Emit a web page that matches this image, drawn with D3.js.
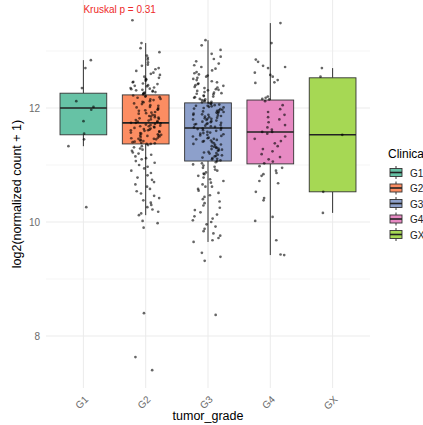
<!DOCTYPE html>
<meta charset="utf-8">
<style>
body { margin: 0; background: #fff; }
text { font-family: "Liberation Sans", Arial, sans-serif; }
.grid { stroke: #EBEBEB; fill: none; }
.box { stroke: #333; stroke-width: 0.9; }
.median { stroke: #222; stroke-width: 1.6; }
.whisker { stroke: #333; stroke-width: 1; }
.dot { fill: #000; fill-opacity: 0.6; }
</style>

<svg id="chart" width="423" height="425"></svg>

<script src="https://cdn.jsdelivr.net/npm/d3@7"></script>
<script>

const grades = ["G1", "G2", "G3", "G4", "GX"]
const colors = ["#66C2A5", "#FC8D62", "#8DA0CB", "#E78AC3", "#A6D854"]

// box statistics
const whiskerLo = [11.33, 10.12, 9.65, 9.42, 10.16]
const q1        = [11.53, 11.37, 11.07, 11.02, 10.53]
const medians   = [12.00, 11.74, 11.65, 11.58, 11.53]
const q3        = [12.26, 12.23, 12.09, 12.14, 12.53]
const whiskerHi = [12.84, 13.14, 13.19, 13.49, 12.70]

const yMajor = [8, 10, 12]
const yMinor = [9, 11, 13]

const valuesG1 = [12.84, 12.70, 12.35, 12.12, 12.02, 11.97, 11.77, 11.55, 11.45, 11.33, 10.26]

const valuesG2 = [
  13.54, 13.14, 13.05, 12.98, 12.92, 12.88, 12.85, 12.80, 12.76, 12.74, 12.70, 12.68, 12.65, 12.62,
  12.60, 12.58, 12.55, 12.53, 12.51, 12.50, 12.48, 12.46, 12.45, 12.43, 12.42, 12.40, 12.39, 12.38,
  12.36, 12.35, 12.34, 12.33, 12.32, 12.31, 12.30, 12.29, 12.28, 12.27, 12.26, 12.25, 12.24,
  12.22, 12.21, 12.20, 12.19, 12.18, 12.16, 12.15, 12.14, 12.12, 12.11, 12.10, 12.08, 12.07, 12.05,
  12.04, 12.02, 12.01, 12.00, 11.98, 11.97, 11.96, 11.95, 11.93, 11.92, 11.91, 11.90, 11.88, 11.87,
  11.86, 11.85, 11.84, 11.83, 11.82, 11.81, 11.80, 11.79, 11.78, 11.77, 11.76, 11.75, 11.74, 11.74,
  11.73, 11.72, 11.71, 11.70, 11.69, 11.68, 11.67, 11.66, 11.65, 11.64, 11.63, 11.62, 11.61, 11.60,
  11.59, 11.58, 11.57, 11.56, 11.55, 11.54, 11.53, 11.52, 11.51, 11.50, 11.49, 11.48, 11.47, 11.46,
  11.45, 11.44, 11.43, 11.42, 11.41, 11.40, 11.39, 11.38, 11.37, 11.37, 11.46, 11.52, 11.61, 11.68,
  11.35, 11.33, 11.31, 11.29, 11.27, 11.25, 11.22, 11.20, 11.18, 11.15, 11.12, 11.10, 11.07, 11.04,
  11.00, 10.97, 10.94, 10.90, 10.86, 10.82, 10.78, 10.74, 10.70, 10.66, 10.62, 10.58, 10.54, 10.50,
  10.46, 10.42, 10.38, 10.34, 10.30, 10.26, 10.22, 10.18, 10.15, 10.12,
  10.02, 9.98, 9.90, 8.40, 7.63, 7.40
]

const valuesG3 = [
  13.19, 13.10, 13.02, 12.95, 12.90, 12.86, 12.82, 12.78, 12.75, 12.72, 12.69, 12.66, 12.63, 12.61,
  12.59, 12.57, 12.55, 12.53, 12.51, 12.49, 12.47, 12.45, 12.43, 12.42, 12.40, 12.39, 12.37, 12.36,
  12.35, 12.33, 12.32, 12.31, 12.30, 12.28, 12.27, 12.26, 12.25, 12.24, 12.22, 12.21, 12.20, 12.19,
  12.18, 12.16, 12.15, 12.14, 12.13, 12.12, 12.11, 12.10,
  12.09, 12.08, 12.07, 12.06, 12.05, 12.04, 12.03, 12.02, 12.01, 12.00, 11.99, 11.98, 11.97, 11.96,
  11.95, 11.94, 11.93, 11.92, 11.91, 11.90, 11.89, 11.88, 11.87, 11.86, 11.85, 11.84, 11.83, 11.82,
  11.81, 11.80, 11.79, 11.78, 11.77, 11.76, 11.75, 11.74, 11.73, 11.72, 11.71, 11.70, 11.69, 11.68,
  11.67, 11.66, 11.65, 11.93, 11.81, 11.72, 12.04, 11.88,
  11.64, 11.63, 11.62, 11.61, 11.60, 11.58, 11.57, 11.56, 11.55, 11.53, 11.52, 11.51, 11.50, 11.48,
  11.47, 11.46, 11.45, 11.43, 11.42, 11.41, 11.40, 11.38, 11.37, 11.36, 11.35, 11.33, 11.32, 11.31,
  11.30, 11.28, 11.27, 11.26, 11.25, 11.23, 11.22, 11.21, 11.20, 11.18, 11.17, 11.16, 11.15, 11.13,
  11.12, 11.11, 11.10, 11.08, 11.07, 11.44, 11.29, 11.54,
  11.05, 11.03, 11.01, 10.99, 10.97, 10.95, 10.92, 10.90, 10.87, 10.84, 10.81, 10.78, 10.75, 10.72,
  10.69, 10.66, 10.62, 10.58, 10.55, 10.51, 10.47, 10.44, 10.40, 10.36, 10.33, 10.29, 10.25, 10.21,
  10.17, 10.13, 10.10, 10.06, 10.03, 10.00, 9.96, 9.92, 9.88, 9.84, 9.80, 9.76, 9.72, 9.68, 9.65,
  10.62, 10.85,
  9.46, 9.39, 9.32, 8.37
]

const valuesG4 = [
  13.49, 13.14, 12.85, 12.81, 12.74, 12.72, 12.70, 12.62, 12.58, 12.55, 12.49, 12.45, 12.44, 12.20,
  12.18, 12.16, 12.15,
  12.12, 12.05, 11.98, 11.93, 11.88, 11.84, 11.80, 11.75, 11.70, 11.66, 11.62, 11.58, 11.58, 11.55,
  11.50, 11.46, 11.42, 11.38, 11.33, 11.28, 11.24, 11.19, 11.14, 11.10, 11.06, 11.03,
  10.98, 10.95, 10.90, 10.86, 10.84, 10.81, 10.72, 10.68, 10.53, 10.42, 10.38, 10.09, 10.02, 9.68,
  9.43, 9.42
]

const valuesGX = [12.70, 12.55, 11.53, 10.53, 10.16]

const pointValues = [valuesG1, valuesG2, valuesG3, valuesG4, valuesGX]

const svg = d3.select("#chart")

const panel = {left: 46, right: 370, top: 0, bottom: 388}

const x = d3.scalePoint()
  .domain(grades)
  .range([panel.left, panel.right])
  .padding(0.6)

const y = d3.scaleLinear()
  .domain([7.088, 13.895])
  .range([panel.bottom, panel.top])

const boxW = x.step() * 0.75
const jitterW = x.step() * 0.25

// deterministic jitter so the picture is stable
const jitter = (g, i) => {
  const s = Math.sin((i + 1) * 12.9898 + (g + 1) * 78.233) * 43758.5453
  return (s - Math.floor(s)) * 2 - 1
}

//gridlines
svg.append("g").selectAll("line.minor")
  .data(yMinor)
  .join("line")
    .attr("class", "grid")
    .attr("stroke-width", 0.5)
    .attr("x1", panel.left).attr("x2", panel.right)
    .attr("y1", d => y(d)).attr("y2", d => y(d))

svg.append("g").selectAll("line.major")
  .data(yMajor)
  .join("line")
    .attr("class", "grid")
    .attr("stroke-width", 1)
    .attr("x1", panel.left).attr("x2", panel.right)
    .attr("y1", d => y(d)).attr("y2", d => y(d))

svg.append("g").selectAll("line")
  .data(grades)
  .join("line")
    .attr("class", "grid")
    .attr("stroke-width", 1)
    .attr("x1", d => x(d)).attr("x2", d => x(d))
    .attr("y1", panel.top).attr("y2", panel.bottom)

//boxplots
const boxes = svg.append("g").selectAll("g")
  .data(grades)
  .join("g")

boxes.append("line")
  .attr("class", "whisker")
  .attr("x1", d => x(d)).attr("x2", d => x(d))
  .attr("y1", (d, i) => y(whiskerHi[i])).attr("y2", (d, i) => y(q3[i]))

boxes.append("line")
  .attr("class", "whisker")
  .attr("x1", d => x(d)).attr("x2", d => x(d))
  .attr("y1", (d, i) => y(q1[i])).attr("y2", (d, i) => y(whiskerLo[i]))

boxes.append("rect")
  .attr("class", "box")
  .attr("x", d => x(d) - boxW / 2)
  .attr("width", boxW)
  .attr("y", (d, i) => y(q3[i]))
  .attr("height", (d, i) => y(q1[i]) - y(q3[i]))
  .attr("fill", (d, i) => colors[i])

boxes.append("line")
  .attr("class", "median")
  .attr("x1", d => x(d) - boxW / 2).attr("x2", d => x(d) + boxW / 2)
  .attr("y1", (d, i) => y(medians[i])).attr("y2", (d, i) => y(medians[i]))

//jittered points
const points = []
pointValues.forEach((vals, g) => vals.forEach((v, i) => points.push({g, v, i})))

svg.append("g").selectAll("circle")
  .data(points)
  .join("circle")
    .attr("class", "dot")
    .attr("r", 1.35)
    .attr("cx", d => x(grades[d.g]) + jitter(d.g, d.i) * jitterW)
    .attr("cy", d => y(d.v))

//axes
const yAxis = svg.append("g")
  .attr("transform", `translate(${panel.left}, 0)`)
  .call(d3.axisLeft(y).tickValues(yMajor).tickFormat(d3.format("d")).tickSize(0).tickPadding(6))
yAxis.select(".domain").remove()
yAxis.selectAll("text")
  .attr("fill", "#6B6B6B")
  .style("font-size", "10px")

const xAxis = svg.append("g")
  .attr("transform", `translate(0, ${panel.bottom})`)
  .call(d3.axisBottom(x).tickSize(0).tickPadding(0))
xAxis.select(".domain").remove()
xAxis.selectAll("text")
  .attr("fill", "#6B6B6B")
  .style("font-size", "10px")
  .attr("text-anchor", "end")
  .attr("dy", null)
  .attr("y", 0)
  .attr("transform", "translate(5, 12) rotate(-45)")

svg.append("text")
  .attr("x", (panel.left + panel.right) / 2)
  .attr("y", 420)
  .attr("text-anchor", "middle")
  .style("font-size", "12.5px")
  .text("tumor_grade")

svg.append("text")
  .attr("transform", `translate(21, ${(panel.top + panel.bottom) / 2}) rotate(-90)`)
  .attr("text-anchor", "middle")
  .style("font-size", "12.5px")
  .text("log2(normalized count + 1)")

svg.append("text")
  .attr("x", x("G1"))
  .attr("y", 13)
  .attr("fill", "#EE2A2A")
  .style("font-size", "10px")
  .text("Kruskal p = 0.31")

//legend
const legend = svg.append("g")
  .attr("transform", "translate(388, 0)")

legend.append("text")
  .attr("x", 0)
  .attr("y", 158)
  .style("font-size", "12px")
  .text("Clinical grade")

const keys = legend.selectAll("g")
  .data(grades)
  .join("g")
    .attr("transform", (d, i) => `translate(2, ${166 + i * 15.5})`)

keys.append("line")
  .attr("class", "whisker")
  .attr("x1", 6).attr("x2", 6).attr("y1", 0).attr("y2", 13)
keys.append("rect")
  .attr("class", "box")
  .attr("x", 0).attr("y", 2.5).attr("width", 12).attr("height", 8)
  .attr("fill", (d, i) => colors[i])
keys.append("line")
  .attr("class", "median")
  .attr("x1", 0).attr("x2", 12).attr("y1", 6.5).attr("y2", 6.5)
keys.append("text")
  .attr("x", 20)
  .attr("y", 10.5)
  .attr("fill", "#222")
  .style("font-size", "10px")
  .text(d => d)

</script>
